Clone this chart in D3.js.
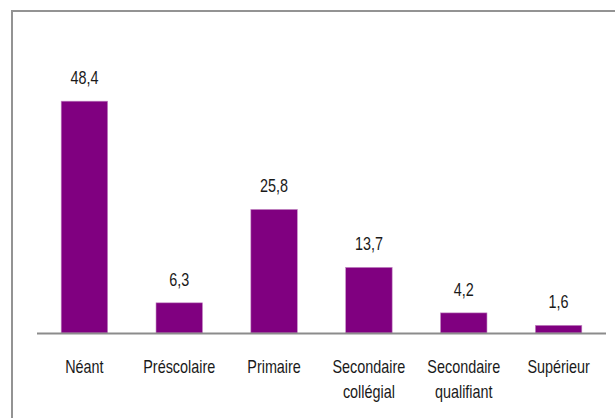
<!DOCTYPE html>
<html>
<head>
<meta charset="utf-8">
<script src="https://cdn.jsdelivr.net/npm/d3@7"></script>
<style>
  body { margin: 0; background: #fff; }
  text { font-family: 'Liberation Sans', Arial, sans-serif; fill: #1a1a1a; }
</style>
</head>
<body>
<svg id="chart" width="615" height="418"></svg>
<script>
/* data */
const categories = [['Néant'], ['Préscolaire'], ['Primaire'], ['Secondaire', 'collégial'], ['Secondaire', 'qualifiant'], ['Supérieur']]
const values = [48.4, 6.3, 25.8, 13.7, 4.2, 1.6]
const valueLabels = ['48,4', '6,3', '25,8', '13,7', '4,2', '1,6']

/* text in the reference is tall and narrow: squeeze it sideways */
const squeeze = 0.8

const svg = d3.select('#chart')

/* frame round the chart (cut off at right and bottom) */
svg.append('rect')
  .attr('x', 12).attr('y', 11)
  .attr('width', 640).attr('height', 440)
  .attr('fill', 'none')
  .attr('stroke', '#939393')
  .attr('stroke-width', 2)

/* scales */
const xScale = d3.scaleBand()
  .domain(d3.range(values.length))
  .range([37, 606])
  .paddingInner(0.51)
  .paddingOuter(0.255)

const baseY = 333
const yScale = d3.scaleLinear().domain([0, 50]).range([baseY, baseY - 239.5])
const cx = i => xScale(i) + xScale.bandwidth() / 2

/* bars */
svg.selectAll('rect.bar')
  .data(values)
  .join('rect')
  .attr('class', 'bar')
  .attr('x', (d, i) => xScale(i))
  .attr('y', d => yScale(d))
  .attr('width', xScale.bandwidth())
  .attr('height', d => yScale(0) - yScale(d))
  .attr('fill', '#800080')
  .attr('stroke', '#c48ac4')
  .attr('stroke-width', 0.6)

/* value labels */
svg.selectAll('text.val')
  .data(values)
  .join('text')
  .attr('class', 'val')
  .attr('transform', (d, i) => `translate(${cx(i)}, ${yScale(d) - 17}) scale(${squeeze}, 1)`)
  .attr('text-anchor', 'middle')
  .style('font-size', '18px')
  .text((d, i) => valueLabels[i])

/* baseline axis */
svg.append('line')
  .attr('x1', 37).attr('x2', 606)
  .attr('y1', baseY + 0.5).attr('y2', baseY + 0.5)
  .attr('stroke', '#8c8c8c')
  .attr('stroke-width', 2)

/* category labels */
const cat = svg.selectAll('text.cat')
  .data(categories)
  .join('text')
  .attr('class', 'cat')
  .attr('transform', (d, i) => `translate(${cx(i)}, 373) scale(${squeeze}, 1)`)
  .attr('text-anchor', 'middle')
  .style('font-size', '18px')

cat.selectAll('tspan')
  .data(d => d)
  .join('tspan')
  .attr('x', 0)
  .attr('y', (d, j) => j * 25)
  .text(d => d)
</script>
</body>
</html>
